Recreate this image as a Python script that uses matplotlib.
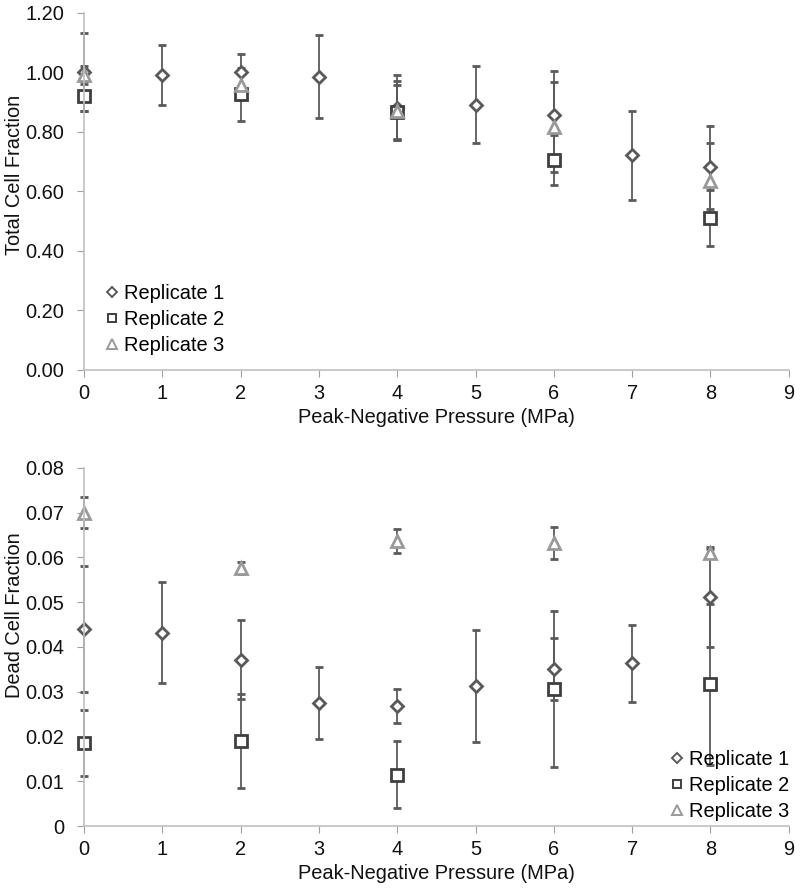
import numpy as np
import matplotlib.pyplot as plt
from matplotlib.lines import Line2D

plt.rcParams["font.family"] = ["Liberation Sans", "DejaVu Sans"]

# 压力值 (MPa)
x_r1 = [0, 1, 2, 3, 4, 5, 6, 7, 8]
x_r23 = [0, 2, 4, 6, 8]

# 总细胞比例
total_r1 = [1.00, 0.99, 1.00, 0.985, 0.88, 0.89, 0.855, 0.72, 0.68]
total_r1_err = [0.13, 0.10, 0.06, 0.14, 0.11, 0.13, 0.15, 0.15, 0.14]
total_r2 = [0.92, 0.925, 0.865, 0.705, 0.51]
total_r2_err = [0.05, 0.09, 0.09, 0.085, 0.095]
total_r3 = [0.99, 0.955, 0.87, 0.815, 0.635]
total_r3_err = [0.03, 0.05, 0.10, 0.15, 0.125]

# 死细胞比例
dead_r1 = [0.044, 0.0432, 0.0372, 0.0275, 0.0268, 0.0313, 0.0351, 0.0364, 0.0512]
dead_r1_err = [0.014, 0.0113, 0.0088, 0.008, 0.0038, 0.0125, 0.007, 0.0086, 0.0112]
dead_r2 = [0.0186, 0.019, 0.0115, 0.0306, 0.0317]
dead_r2_err = [0.0074, 0.0105, 0.0075, 0.0175, 0.018]
dead_r3 = [0.070, 0.0577, 0.0637, 0.0632, 0.061]
dead_r3_err = [0.0035, 0.0013, 0.0027, 0.0036, 0.0008]

labels = ["Replicate 1", "Replicate 2", "Replicate 3"]
c1, c2, c3 = "#595959", "#3f3f3f", "#9a9a9a"
ecolor = "#5a5a5a"
fs = 14.4


def draw(ax, r1, e1, r2, e2, r3, e3):
    kw = dict(linestyle="none", ecolor=ecolor, elinewidth=1.3, capsize=3, capthick=1.2,
              markerfacecolor="white", markeredgewidth=2)
    for xs, ys, es, m, ms, c in [(x_r1, r1, e1, "D", 6.5, c1),
                                 (x_r23, r2, e2, "s", 8.5, c2),
                                 (x_r23, r3, e3, "^", 8.5, c3)]:
        cont = ax.errorbar(xs, ys, yerr=es, marker=m, markersize=ms, color=c, **kw)
        for art in cont.get_children():
            art.set_clip_on(False)
    ax.set_xlim(0, 9)
    ax.set_xticks(range(10))
    for s in ["top", "right"]:
        ax.spines[s].set_visible(False)
    for s in ["left", "bottom"]:
        ax.spines[s].set_color("#c0c0c0")
        ax.spines[s].set_linewidth(1.2)
    ax.tick_params(axis="both", colors="#a0a0a0", labelcolor="#111111", labelsize=fs,
                   direction="out", length=5)
    ax.tick_params(axis="x", pad=5)
    ax.tick_params(axis="y", pad=9)
    ax.set_xlabel("Peak-Negative Pressure (MPa)", fontsize=fs, labelpad=4, color="#111111")


def handles():
    kw = dict(linestyle="none", markerfacecolor="white", markeredgewidth=1.4)
    return [Line2D([], [], marker="D", markersize=5, color=c1, **kw),
            Line2D([], [], marker="s", markersize=6, color=c2, **kw),
            Line2D([], [], marker="^", markersize=6.5, color=c3, **kw)]


leg_kw = dict(frameon=False, fontsize=fs, handletextpad=0.3, handlelength=0.6,
              labelspacing=0.35, borderpad=0, borderaxespad=0)

fig = plt.figure(figsize=(8, 8.93), dpi=100)
ax1 = fig.add_axes([0.105, 0.586, 0.881, 0.400])
ax2 = fig.add_axes([0.105, 0.075, 0.881, 0.401])

draw(ax1, total_r1, total_r1_err, total_r2, total_r2_err, total_r3, total_r3_err)
ax1.set_ylim(0, 1.2)
ax1.set_yticks(np.arange(0, 1.21, 0.2))
ax1.set_yticklabels([f"{v:.2f}" for v in np.arange(0, 1.21, 0.2)])
ax1.set_ylabel("Total Cell Fraction", fontsize=fs, color="#111111")
ax1.yaxis.set_label_coords(-0.085, 0.546)
ax1.legend(handles(), labels, loc="center left", bbox_to_anchor=(0.031, 0.14), **leg_kw)

draw(ax2, dead_r1, dead_r1_err, dead_r2, dead_r2_err, dead_r3, dead_r3_err)
ax2.set_ylim(0, 0.08)
ax2.set_yticks(np.arange(0, 0.081, 0.01))
ax2.set_yticklabels(["0"] + [f"{v:.2f}" for v in np.arange(0.01, 0.081, 0.01)])
ax2.set_ylabel("Dead Cell Fraction", fontsize=fs, color="#111111")
ax2.yaxis.set_label_coords(-0.085, 0.59)
ax2.legend(handles(), labels, loc="center right", bbox_to_anchor=(1.0, 0.1145), **leg_kw)

fig.savefig("out.png", dpi=100)
